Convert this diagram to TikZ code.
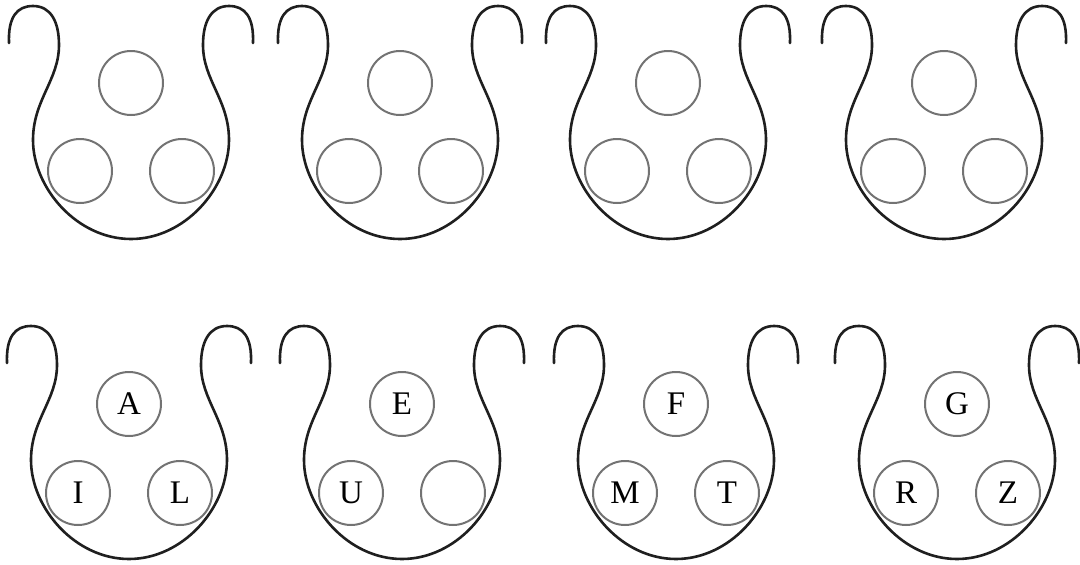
\documentclass[tikz,border=0pt]{standalone}
\usepackage{fontspec}
\setmainfont{Liberation Serif}
\begin{document}
\begin{tikzpicture}[x=1pt,y=-1pt,
  potline/.style={line width=2.6pt, draw=black!88, line cap=round, line join=round},
  seat/.style={circle, draw=black!55, line width=2pt, minimum size=64pt, inner sep=0pt,
    font=\fontsize{33}{33}\selectfont},
  pot/.pic={\draw[potline] (-122,43) .. controls (-123,17) and (-114,6) .. (-98,6)
    .. controls (-80,6) and (-72,22) .. (-72,45)
    .. controls (-72,80) and (-98,100) .. (-98,140)
    .. controls (-98,188) and (-54,239) .. (0,239)
    .. controls (54,239) and (98,188) .. (98,140)
    .. controls (98,100) and (72,80) .. (72,45)
    .. controls (72,22) and (80,6) .. (98,6)
    .. controls (114,6) and (123,17) .. (122,43);}
]
\useasboundingbox (0,0) rectangle (1080,565);
\clip (0,0) rectangle (1080,565);
% top row
\foreach \cx/\n in {131/1,400/2,668/3,944/4}{
  \pic at (\cx,0) {pot};
  \node[seat] (t\n a) at (\cx,83) {};
  \node[seat] (t\n b) at (\cx-51,171) {};
  \node[seat] (t\n c) at (\cx+51,171) {};
}
% bottom row
\foreach \cx/\n/\p/\q/\r in {129/1/A/I/L,402/2/E/U/{},676/3/F/M/T,957/4/G/R/Z}{
  \pic at (\cx,320) {pot};
  \node[seat] (b\n a) at (\cx,404) {\p};
  \node[seat] (b\n b) at (\cx-51,493) {\q};
  \node[seat] (b\n c) at (\cx+51,493) {\r};
}
\end{tikzpicture}
\end{document}
